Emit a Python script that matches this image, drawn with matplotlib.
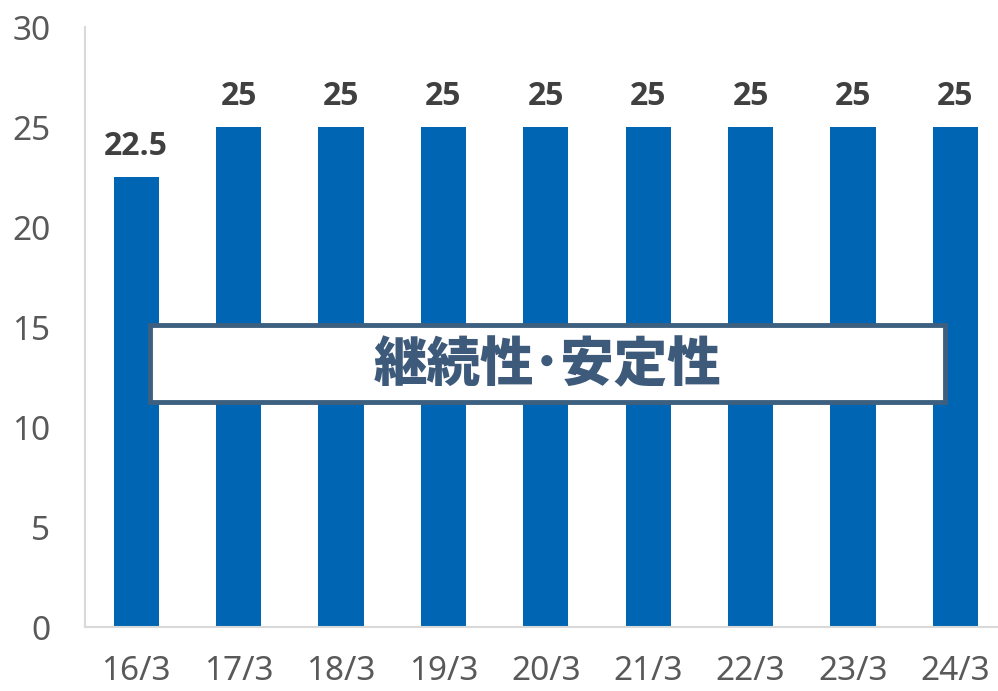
import matplotlib
matplotlib.use("Agg")
import matplotlib.pyplot as plt
from matplotlib.patches import FancyBboxPatch

plt.rcParams['font.family'] = ['Noto Sans', 'DejaVu Sans']

categories = ["16/3", "17/3", "18/3", "19/3", "20/3", "21/3", "22/3", "23/3", "24/3"]
values = [22.5, 25, 25, 25, 25, 25, 25, 25, 25]
value_labels = ["22.5", "25", "25", "25", "25", "25", "25", "25", "25"]
y_ticks = [0, 5, 10, 15, 20, 25, 30]
banner_text = "継続性･安定性"

W, H = 998, 691
fig = plt.figure(figsize=(W / 100, H / 100), dpi=100)

# axes: left spine at x=85, baseline at y=627, top at y=27, 102.4 px per category
left, right = 85, 85 + 9 * 102.4
bottom, top = 627, 27
ax = fig.add_axes([left / W, 1 - bottom / H, (right - left) / W, (bottom - top) / H])

x = list(range(len(categories)))
bars = ax.bar(x, values, width=0.44, color="#0066B3", zorder=2)
ax.set_xlim(-0.5, len(categories) - 0.5)
ax.set_ylim(0, 30)

for xi, v, lab in zip(x, values, value_labels):
    ax.annotate(lab, (xi, v), xytext=(0, 10), textcoords="offset points",
                ha="center", va="bottom", fontsize=23, fontweight="bold",
                color="#404040", family=["Open Sans", "DejaVu Sans"])

ax.set_yticks(y_ticks)
ax.set_yticklabels([str(t) for t in y_ticks])
ax.set_xticks(x)
ax.set_xticklabels(categories)
ax.tick_params(axis="both", length=0, labelsize=24, colors="#595959")
ax.tick_params(axis="y", pad=25)
ax.tick_params(axis="x", pad=20)

for side in ("top", "right"):
    ax.spines[side].set_visible(False)
for side in ("left", "bottom"):
    ax.spines[side].set_color("#D9D9D9")
    ax.spines[side].set_linewidth(1.5)

# banner box across the bars
bx0, bx1, by0, by1 = 150, 945, 325, 402
box = FancyBboxPatch((bx0 / W, 1 - by1 / H), (bx1 - bx0) / W, (by1 - by0) / H,
                     boxstyle="square,pad=0", transform=fig.transFigure,
                     facecolor="white", edgecolor="#3D6080", linewidth=3.5,
                     zorder=5)
fig.patches.append(box)
fig.text((bx0 + bx1) / 2 / W, 1 - 366 / H, banner_text,
         ha="center", va="center", fontsize=38.5, fontweight="heavy",
         color="#3D5A7A", family=["Noto Sans CJK JP", "DejaVu Sans"], zorder=6)

fig.savefig("out.png", dpi=100)
